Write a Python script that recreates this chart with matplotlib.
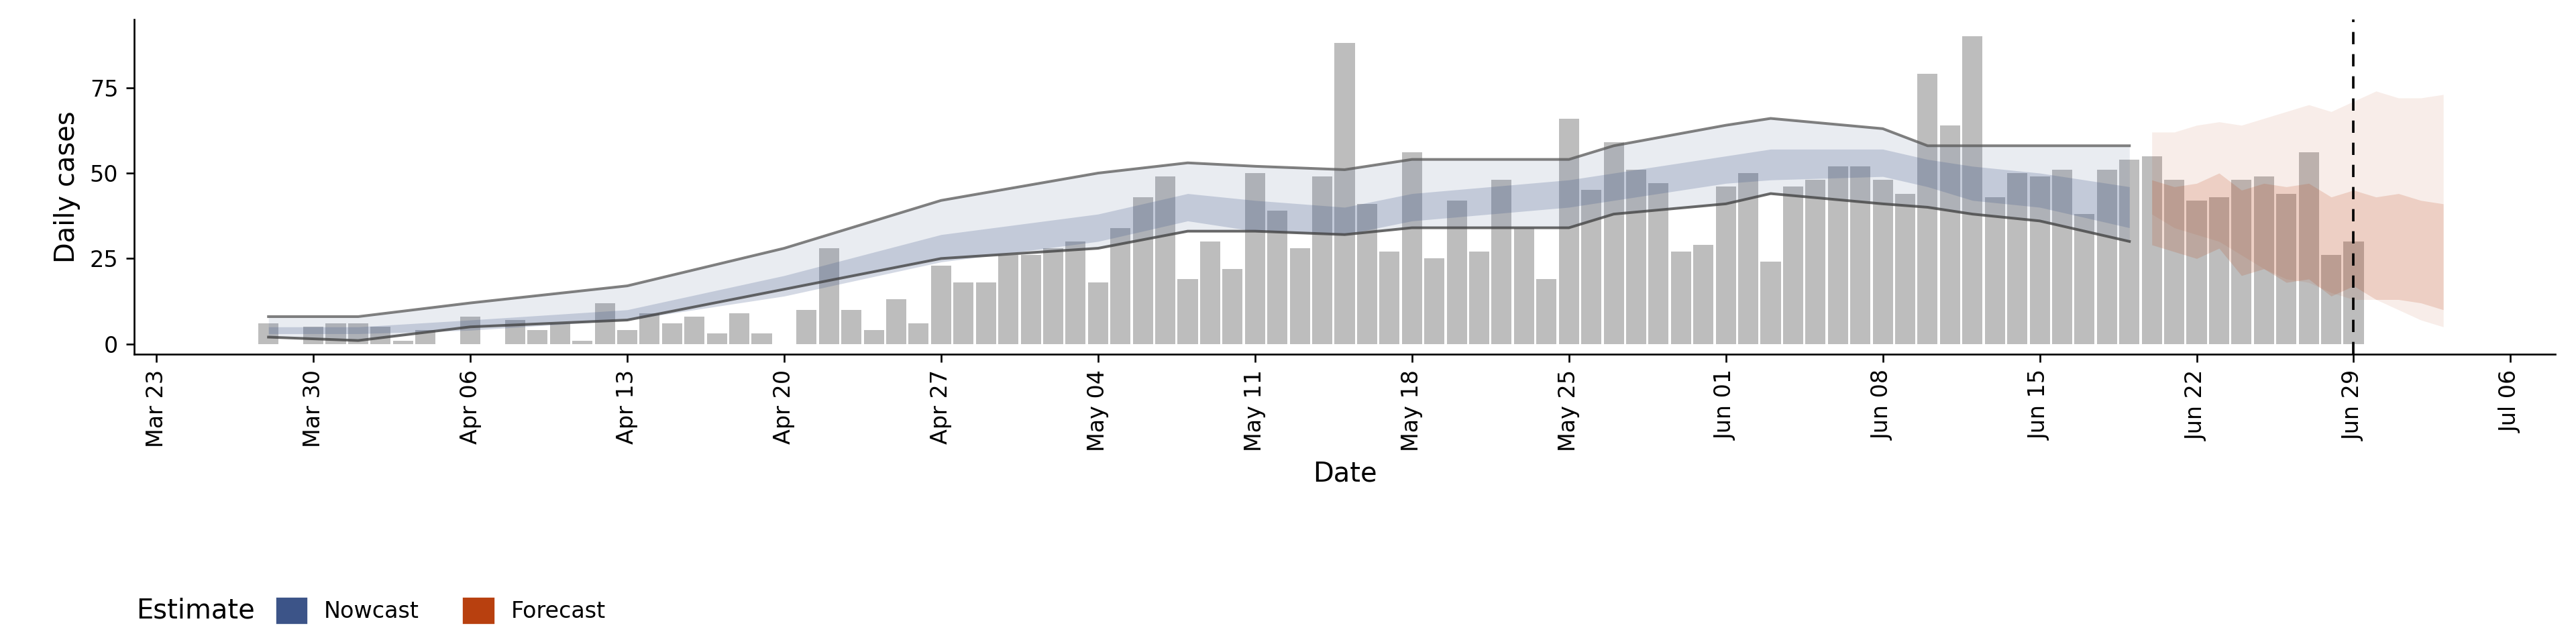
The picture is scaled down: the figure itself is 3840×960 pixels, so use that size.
import numpy as np
import pandas as pd
from matplotlib import pyplot as plt
from matplotlib.patches import Patch

# observed daily cases
case_start = "2020-03-28"
cases = [6, 0, 5, 6, 6, 5, 1, 4, 0, 8, 0, 7, 4, 6, 1, 12, 4, 9, 6, 8, 3, 9, 3, 0,
         10, 28, 10, 4, 13, 6, 23, 18, 18, 26, 26, 28, 30, 18, 34, 43, 49, 19, 30, 22,
         50, 39, 28, 49, 88, 41, 27, 56, 25, 42, 27, 48, 34, 19, 66, 45, 59, 51, 47, 27,
         29, 46, 50, 24, 46, 48, 52, 52, 48, 44, 79, 64, 90, 43, 50, 49, 51, 38, 51, 54,
         55, 48, 42, 43, 48, 49, 44, 56, 26, 30]

# nowcast bands
now_dates = ["2020-03-28", "2020-04-01", "2020-04-06", "2020-04-13", "2020-04-20", "2020-04-27",
             "2020-05-04", "2020-05-08", "2020-05-11", "2020-05-15", "2020-05-18", "2020-05-25",
             "2020-05-27", "2020-06-01", "2020-06-03", "2020-06-08", "2020-06-10", "2020-06-12",
             "2020-06-15", "2020-06-19"]
now_hi90 = [8, 8, 12, 17, 28, 42, 50, 53, 52, 51, 54, 54, 58, 64, 66, 63, 58, 58, 58, 58]
now_lo90 = [2, 1, 5, 7, 16, 25, 28, 33, 33, 32, 34, 34, 38, 41, 44, 41, 40, 38, 36, 30]
now_hi50 = [5, 5, 7, 10, 20, 32, 38, 44, 42, 40, 44, 48, 50, 55, 57, 57, 54, 52, 50, 46]
now_lo50 = [3, 3, 4, 7, 14, 24, 30, 36, 33, 32, 36, 40, 42, 47, 48, 49, 46, 42, 40, 34]

# forecast bands
fc_dates = ["2020-06-20", "2020-06-21", "2020-06-22", "2020-06-23", "2020-06-24", "2020-06-25",
            "2020-06-26", "2020-06-27", "2020-06-28", "2020-06-29", "2020-06-30", "2020-07-01",
            "2020-07-02", "2020-07-03"]
fc_hi90 = [62, 62, 64, 65, 64, 66, 68, 70, 68, 71, 74, 72, 72, 73]
fc_lo90 = [38, 34, 32, 30, 26, 22, 19, 18, 15, 13, 13, 10, 7, 5]
fc_hi50 = [48, 46, 47, 50, 45, 47, 46, 47, 43, 45, 43, 44, 42, 41]
fc_lo50 = [29, 27, 25, 28, 20, 22, 18, 19, 14, 17, 13, 13, 12, 10]

now_c = "#3C5488"
fc_c = "#B8400F"

case_dates = pd.date_range(case_start, periods=len(cases), freq="D")
nd = pd.to_datetime(now_dates)
fd = pd.to_datetime(fc_dates)

fig, ax = plt.subplots(figsize=(16, 4), dpi=240)
fig.subplots_adjust(left=0.052, right=0.992, top=0.97, bottom=0.45)

ax.bar(case_dates, cases, width=0.9, color="#BDBDBD", zorder=1)
ax.fill_between(nd, now_lo90, now_hi90, color=now_c, alpha=0.11, lw=0, zorder=2)
ax.fill_between(nd, now_lo50, now_hi50, color=now_c, alpha=0.22, lw=0, zorder=2)
ax.plot(nd, now_hi90, color="#555555", alpha=0.75, lw=1.2, zorder=3)
ax.plot(nd, now_lo90, color="#444444", alpha=0.8, lw=1.2, zorder=3)
ax.fill_between(fd, fc_lo90, fc_hi90, color=fc_c, alpha=0.09, lw=0, zorder=2)
ax.fill_between(fd, fc_lo50, fc_hi50, color=fc_c, alpha=0.17, lw=0, zorder=2)
ax.axvline(pd.Timestamp("2020-06-29"), color="black", ls=(0, (5, 4)), lw=1.1, zorder=4)

ticks = pd.date_range("2020-03-23", "2020-07-06", freq="7D")
ax.set_xticks(ticks)
ax.set_xticklabels([t.strftime("%b %d") for t in ticks], rotation=90, fontsize=10)
ax.set_xlim(pd.Timestamp("2020-03-22"), pd.Timestamp("2020-07-08"))
ax.set_ylim(-3, 95)
ax.set_yticks([0, 25, 50, 75])
ax.tick_params(axis="y", labelsize=10)
ax.set_xlabel("Date", fontsize=12)
ax.set_ylabel("Daily cases", fontsize=12)
for s in ["top", "right"]:
    ax.spines[s].set_visible(False)

handles = [Patch(color=now_c, label="Nowcast"), Patch(color=fc_c, label="Forecast")]
leg = fig.legend(handles=handles, loc="lower left", bbox_to_anchor=(0.045, 0.0), ncol=2,
                 frameon=False, title="Estimate", fontsize=10, title_fontsize=12,
                 handlelength=1.3, handleheight=1.3)
leg._legend_box.align = "left"
# put the title on the same row as the entries
from matplotlib.offsetbox import HPacker
leg._legend_box._children = [HPacker(children=list(leg._legend_box.get_children()),
                                     align="center", pad=0, sep=10)]

fig.savefig("out.png")
